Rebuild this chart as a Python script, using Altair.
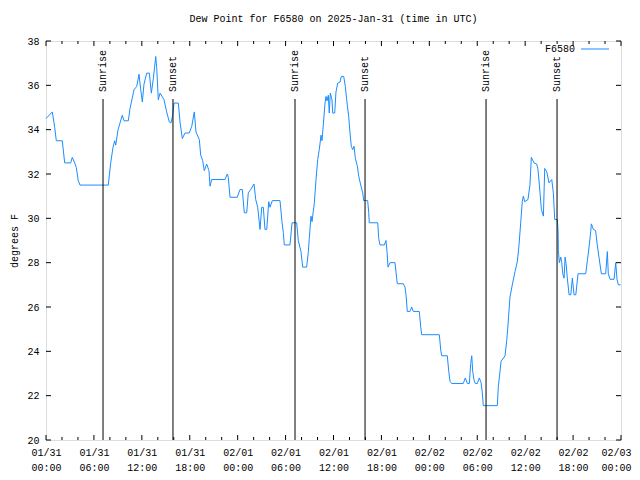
import altair as alt
import pandas as pd

# ---- data (hours after 2025-01-31 00:00 UTC, dew point in degrees F) ----
h1 = [0.0, 0.79, 1.09, 1.29, 2.04, 2.34, 3.09, 3.29, 3.59, 3.79, 4.04, 4.26, 7.80, 8.10, 8.39,
      8.60, 8.73, 9.02, 9.55, 9.77, 10.31, 10.52, 11.02, 11.36, 11.65, 11.86, 12.06, 12.27, 12.61,
      12.94, 13.19, 13.44, 13.74, 13.86, 14.06, 14.28]
v1 = [34.5, 34.8, 34.1, 33.5, 33.5, 32.5, 32.5, 32.75, 32.5, 32.3, 31.7, 31.5, 31.5, 32.5, 33.2,
      33.5, 33.3, 34.0, 34.65, 34.4, 34.4, 34.95, 35.8, 35.95, 36.5, 35.8, 35.25, 36.05, 36.55,
      36.55, 35.65, 36.3, 37.3, 36.8, 35.35, 35.65]
h2 = [14.78, 15.11, 15.44, 15.65, 15.86, 16.03, 16.57, 16.78, 17.07, 17.41, 17.94, 18.25, 18.57,
      18.78, 19.20, 19.37, 19.62, 19.82, 20.12, 20.41, 20.54, 20.75, 22.41, 22.70, 22.83, 23.04,
      23.95, 24.29, 24.58, 24.83, 25.13, 25.33, 25.63, 26.05, 26.26, 26.51, 26.80, 27.01, 27.21,
      27.42, 27.64, 27.89, 28.05, 28.34, 29.30]
v2 = [35.35, 34.8, 34.35, 34.3, 34.65, 35.2, 35.2, 34.35, 33.6, 33.85, 33.85, 34.15, 34.8,
      33.9, 33.55, 32.85, 32.6, 32.15, 32.45, 32.15, 31.45, 31.75, 31.75, 32.0, 31.85, 30.95,
      30.95, 31.3, 31.3, 30.25, 30.25, 31.15, 31.3, 31.55, 30.85, 30.5, 29.5, 30.5, 30.5,
      29.5, 29.5, 30.75, 30.5, 30.8, 30.8]
h3 = [29.55, 29.72, 29.84, 30.55, 30.81, 31.39, 31.59, 31.93, 32.14, 32.64, 32.85, 32.97, 33.18,
      33.31, 33.60, 33.81, 34.02, 34.22, 34.44, 34.56, 34.72, 34.94, 35.06, 35.19, 35.35, 35.47,
      35.60, 35.81, 35.90, 36.15, 36.31, 36.53, 36.81, 36.98, 37.28, 37.48, 37.65, 37.90, 38.07,
      38.23, 38.40, 38.57, 38.74, 38.99, 39.16, 39.41, 39.66, 39.78, 40.28, 40.41, 40.48, 41.54,
      41.66, 41.82, 42.36, 42.57, 42.70, 42.83, 43.08, 43.70]
v3 = [29.85, 29.35, 28.8, 28.8, 29.8, 29.8, 29.0, 28.5, 27.8, 27.8, 28.5, 29.1, 30.1,
      29.85, 30.7, 31.75, 32.65, 33.1, 33.75, 33.5, 34.2, 35.2, 35.5, 35.3, 35.55, 34.75,
      35.65, 35.35, 34.75, 34.75, 35.7, 36.1, 36.15, 36.4, 36.4, 35.95, 35.35, 34.6, 33.85,
      33.25, 33.1, 33.25, 32.7, 32.35, 31.9, 31.5, 31.15, 30.8, 30.8, 30.25, 29.8, 29.8,
      29.1, 28.8, 28.8, 29.0, 28.5, 27.8, 28.0, 28.0]
h4 = [43.91, 43.99, 44.74, 44.95, 45.08, 45.24, 45.58, 45.79, 45.99, 46.74, 46.92, 47.05, 49.25,
      49.43, 49.55, 50.25, 50.43, 50.59, 50.80, 52.25, 52.50, 52.76, 53.01, 53.18, 53.31, 53.43,
      53.60, 53.76, 54.01, 54.26, 54.47, 54.60, 54.76, 56.51, 56.64, 56.85, 56.98, 57.48, 57.69,
      57.81]
v4 = [27.3, 27.05, 27.05, 26.9, 26.55, 25.8, 25.8, 26.0, 25.8, 25.8, 25.1, 24.75, 24.75,
      24.05, 23.8, 23.8, 23.1, 22.65, 22.55, 22.55, 22.8, 22.55, 22.55, 23.45, 23.8, 23.1,
      22.7, 22.55, 22.55, 22.8, 22.6, 22.25, 21.55, 21.55, 22.4, 23.1, 23.55, 23.8, 24.5,
      25.0]
h5 = [58.10, 58.39, 58.73, 59.02, 59.23, 59.44, 59.64, 59.77, 59.94, 60.35, 60.60, 60.77, 61.11,
      61.45, 61.61, 61.86, 62.03, 62.28, 62.45, 62.70, 62.99, 63.20, 63.33, 63.53, 63.70, 64.03,
      64.12, 64.16, 64.28, 64.46, 64.58, 64.71, 64.87, 65.00, 65.12, 65.28, 65.50, 65.71, 65.91,
      66.12, 66.34, 66.62, 67.58, 67.79, 68.00, 68.21, 68.29, 68.54, 68.82, 69.03, 69.24, 69.54,
      70.08, 70.29, 70.41, 70.63, 71.13, 71.34, 71.50, 71.67, 71.96]
v5 = [26.45, 27.0, 27.6, 28.05, 28.8, 29.8, 30.75, 31.0, 30.75, 30.85, 31.5, 32.75, 32.5,
      32.45, 32.2, 31.15, 30.4, 30.1, 32.25, 32.1, 31.6, 31.7, 31.75, 31.15, 29.95, 29.95,
      29.45, 28.55, 28.0, 28.25, 28.0, 27.5, 27.3, 28.25, 27.95, 27.3, 26.55, 26.55, 27.3,
      26.55, 26.55, 27.5, 27.5, 28.1, 28.7, 29.4, 29.75, 29.5, 29.45, 28.8, 28.25, 27.5,
      27.5, 28.5, 27.5, 27.25, 27.25, 28.0, 27.25, 27.0, 27.0]

sun_hours = [7.14, 15.90, 31.18, 39.95, 55.10, 63.99]
sun_labels = ["Sunrise", "Sunset", "Sunrise", "Sunset", "Sunrise", "Sunset"]

day_names = ["01/31", "02/01", "02/02", "02/03"]
x_major = [0, 6, 12, 18, 24, 30, 36, 42, 48, 54, 60, 66, 72]
x_minor = [2, 4, 8, 10, 14, 16, 20, 22, 26, 28, 32, 34, 38, 40, 44, 46, 50, 52, 56, 58, 62, 64, 68, 70]
y_ticks = [20, 22, 24, 26, 28, 30, 32, 34, 36, 38]

series_name = "F6580"
title_text = "Dew Point for F6580 on 2025-Jan-31 (time in UTC)"

# ---- chart ----
W, H = 575, 399
FONT = "Liberation Mono"
BLUE = "#1a8cff"

df = pd.DataFrame({"hour": h1 + h2 + h3 + h4 + h5, "dewpt": v1 + v2 + v3 + v4 + v5})
sun = pd.DataFrame({"hour": sun_hours, "label": sun_labels})
xmaj = pd.DataFrame({"v": x_major})
xmin = pd.DataFrame({"v": x_minor})
yt = pd.DataFrame({"v": y_ticks})
leg = pd.DataFrame({"name": [series_name]})

xs = alt.Scale(domain=[0, 72], nice=False, zero=False)
ys = alt.Scale(domain=[20, 38], nice=False, zero=False)

days_js = "[" + ",".join("'" + d + "'" for d in day_names) + "]"
label_expr = (days_js + "[floor(datum.value/24)]")
label_expr = ("[" + label_expr + ", (datum.value % 24 < 10 ? '0' : '') + (datum.value % 24) + ':00']")
last_test = "datum.value >= " + str(x_major[-1])

x_axis = alt.Axis(
    values=x_major, labelExpr=label_expr, ticks=False, tickSize=0, domain=False, grid=False,
    labelFont=FONT, labelFontSize=10, labelColor="black", labelPadding=7,
    labelLineHeight=15, labelBaseline="top", labelAngle=0, labelFlush=False,
    labelAlign={"condition": {"test": last_test, "value": "right"}, "value": "center"},
    labelOffset={"condition": {"test": last_test, "value": 10}, "value": 0},
    labelOverlap=False, title=None)
y_axis = alt.Axis(
    values=y_ticks, ticks=False, tickSize=0, domain=False, grid=False,
    labelFont=FONT, labelFontSize=10, labelColor="black", labelPadding=7,
    labelFlush=False, labelOverlap=False,
    title="degrees F", titleFont=FONT, titleFontSize=10, titleFontWeight="normal",
    titleColor="black", titleX=-32, titleY=H / 2, titleAngle=270,
    titleBaseline="middle", titleAlign="center")

def X(field):
    return alt.X(field, scale=xs, axis=x_axis)

def Y(field):
    return alt.Y(field, scale=ys, axis=y_axis)

line = alt.Chart(df).mark_line(color=BLUE, strokeWidth=1).encode(
    x=X("hour:Q"), y=Y("dewpt:Q"))

sun_rules = alt.Chart(sun).mark_rule(color="black", strokeWidth=1).encode(
    x=X("hour:Q"), y=alt.value(58), y2=alt.value(H))
sun_text = alt.Chart(sun).mark_text(angle=270, align="left", baseline="middle",
                                    font=FONT, fontSize=10, color="black").encode(
    x=X("hour:Q"), y=alt.value(51), text="label:N")

def xticks(data, y0, y1):
    return alt.Chart(data).mark_rule(color="black", strokeWidth=1).encode(
        x=X("v:Q"), y=alt.value(y0), y2=alt.value(y1))

def yticks(x0, x1):
    return alt.Chart(yt).mark_rule(color="black", strokeWidth=1).encode(
        y=Y("v:Q"), x=alt.value(x0), x2=alt.value(x1))

ticks = [
    xticks(xmaj, H - 5, H), xticks(xmaj, 0, 5),
    xticks(xmin, H - 3, H), xticks(xmin, 0, 3),
    yticks(0, 5), yticks(W - 5, W),
]

leg_text = alt.Chart(leg).mark_text(align="right", baseline="middle", font=FONT,
                                    fontSize=10, color="black").encode(
    x=alt.value(529), y=alt.value(8), text="name:N")
leg_line = alt.Chart(leg).mark_rule(color=BLUE, strokeWidth=1).encode(
    x=alt.value(535), x2=alt.value(563), y=alt.value(8))

chart = alt.layer(line, sun_rules, sun_text, *ticks, leg_text, leg_line).properties(
    width=W, height=H,
    autosize=alt.AutoSizeParams(type="none"),
    padding={"left": 38, "top": 33, "right": 11, "bottom": 32},
    title=alt.TitleParams(text=title_text, font=FONT, fontSize=10, fontWeight="normal",
                          color="black", anchor="middle", frame="group",
                          baseline="middle", offset=7),
).configure_view(stroke="black", strokeWidth=1).configure(background="white")

chart.save("out.html", embed_options={"renderer": "svg", "actions": False})
